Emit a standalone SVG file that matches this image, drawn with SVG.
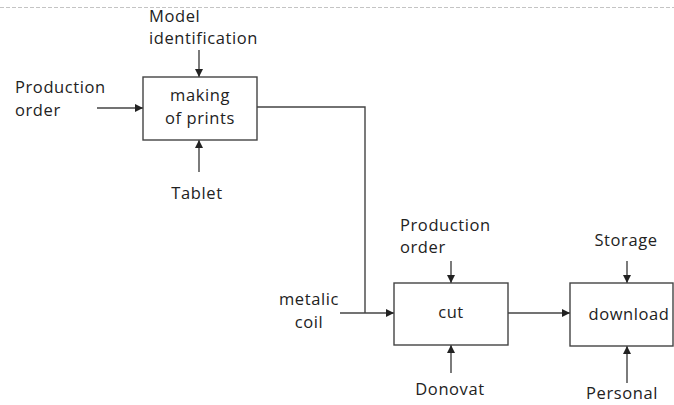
<svg xmlns="http://www.w3.org/2000/svg" width="674" height="405" viewBox="0 0 674 405">
  <style>
    .box { fill: #fff; stroke: #444; stroke-width: 1.4; }
    .line { fill: none; stroke: #444; stroke-width: 1.4; }
    .lbl { font-family: "Open Sans", "Liberation Sans", sans-serif; font-size: 16.5px; letter-spacing: 0.6px; fill: #222; }
    .mid { text-anchor: middle; }
  </style>
  <defs>
    <marker id="arrow" viewBox="0 0 10 10" refX="10" refY="5" markerWidth="8" markerHeight="8" markerUnits="userSpaceOnUse" orient="auto">
      <path d="M0,0 L10,5 L0,10 z" fill="#222"/>
    </marker>
  </defs>

  <rect width="674" height="405" fill="#fff"/>
  <!-- page boundary -->
  <line x1="0" y1="7.5" x2="674" y2="7.5" stroke="#c4c4c4" stroke-width="1" stroke-dasharray="4 2"/>

  <g id="connectors">
    <line class="line" x1="199" y1="50" x2="199" y2="77" marker-end="url(#arrow)"/>
    <line class="line" x1="97" y1="108" x2="143" y2="108" marker-end="url(#arrow)"/>
    <line class="line" x1="199" y1="172" x2="199" y2="140" marker-end="url(#arrow)"/>
    <polyline class="line" points="257,107 365,107 365,313"/>
    <line class="line" x1="340" y1="313" x2="394" y2="313" marker-end="url(#arrow)"/>
    <line class="line" x1="451" y1="261" x2="451" y2="283" marker-end="url(#arrow)"/>
    <line class="line" x1="451" y1="373" x2="451" y2="345" marker-end="url(#arrow)"/>
    <line class="line" x1="508" y1="313" x2="570" y2="313" marker-end="url(#arrow)"/>
    <line class="line" x1="627" y1="261" x2="627" y2="283" marker-end="url(#arrow)"/>
    <line class="line" x1="627" y1="383" x2="627" y2="346" marker-end="url(#arrow)"/>
  </g>

  <g id="making-of-prints">
    <rect class="box" x="143" y="77" width="114" height="63"/>
    <text class="lbl mid" x="200" y="101">making</text>
    <text class="lbl mid" x="200" y="124">of prints</text>
  </g>

  <g id="cut">
    <rect class="box" x="394" y="283" width="114" height="62"/>
    <text class="lbl mid" x="451" y="318">cut</text>
  </g>

  <g id="download">
    <rect class="box" x="570" y="283" width="103" height="63"/>
    <text class="lbl mid" x="629" y="320">download</text>
  </g>

  <g id="model-identification">
    <text class="lbl" x="149" y="22">Model</text>
    <text class="lbl" x="149" y="44">identification</text>
  </g>

  <g id="production-order-1">
    <text class="lbl" x="15" y="93">Production</text>
    <text class="lbl" x="15" y="116">order</text>
  </g>

  <g id="tablet">
    <text class="lbl mid" x="197" y="199">Tablet</text>
  </g>

  <g id="metalic-coil">
    <text class="lbl mid" x="309" y="305">metalic</text>
    <text class="lbl mid" x="309" y="328">coil</text>
  </g>

  <g id="production-order-2">
    <text class="lbl" x="400" y="231">Production</text>
    <text class="lbl" x="400" y="253">order</text>
  </g>

  <g id="donovat">
    <text class="lbl mid" x="450" y="395">Donovat</text>
  </g>

  <g id="storage">
    <text class="lbl mid" x="626" y="246">Storage</text>
  </g>

  <g id="personal">
    <text class="lbl mid" x="622" y="399">Personal</text>
  </g>
</svg>
